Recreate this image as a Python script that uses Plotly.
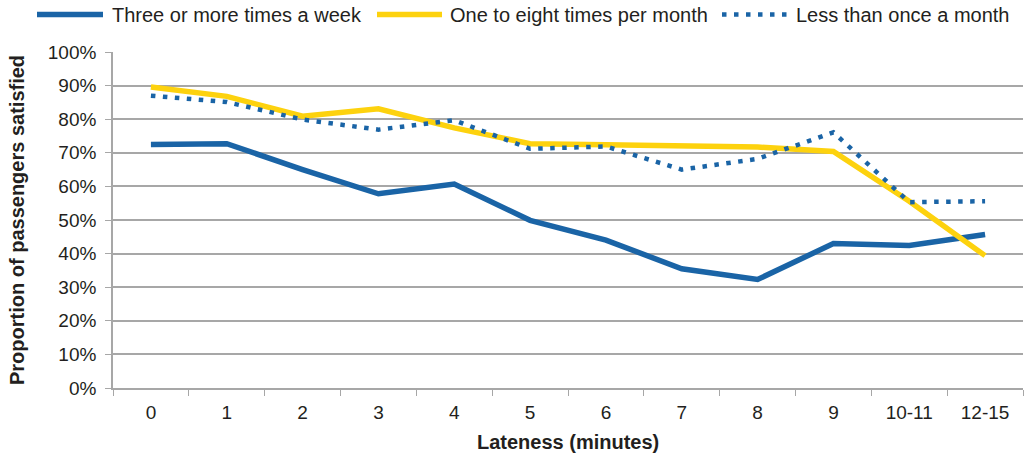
import plotly.graph_objects as go

# Passenger satisfaction by lateness, split by travel frequency
lateness = ["0", "1", "2", "3", "4", "5", "6", "7", "8", "9", "10-11", "12-15"]
three_plus_week = [0.725, 0.727, 0.650, 0.578, 0.607, 0.499, 0.440, 0.355, 0.323, 0.430, 0.424, 0.457]
one_to_eight_month = [0.896, 0.868, 0.809, 0.831, 0.774, 0.727, 0.724, 0.721, 0.717, 0.704, 0.556, 0.394]
less_than_monthly = [0.870, 0.851, 0.799, 0.769, 0.797, 0.712, 0.719, 0.650, 0.682, 0.761, 0.553, 0.556]
y_ticks = [0, 0.1, 0.2, 0.3, 0.4, 0.5, 0.6, 0.7, 0.8, 0.9, 1.0]
y_tick_text = ["0%", "10%", "20%", "30%", "40%", "50%", "60%", "70%", "80%", "90%", "100%"]

BLUE = "#1a64a6"
GOLD = "#fdd20e"
GRID = "#a7a7a7"
TEXT = "#231f20"
FONT = "Liberation Sans, Arial, sans-serif"
DOTS = "4.5px,7.5px"

series = [
    ("Three or more times a week", three_plus_week, BLUE, 5.5, "solid"),
    ("One to eight times per month", one_to_eight_month, GOLD, 5.5, "solid"),
    ("Less than once a month", less_than_monthly, BLUE, 4.5, DOTS),
]

fig = go.Figure()
for name, vals, color, width, dash in series:
    fig.add_trace(go.Scatter(
        x=lateness, y=vals, mode="lines", name=name,
        line=dict(color=color, width=width, dash=dash),
        showlegend=False,
    ))

W, H = 1024, 462
L, R, T, B = 113, 1, 52, 74
pw, ph = W - L - R, H - T - B


def px_x(p):
    return (p - L) / pw


def px_y(p):
    return (H - B - p) / ph


# Legend row drawn above the plot with long line samples
legend_y = px_y(14.5)
legend_items = [
    ("Three or more times a week", BLUE, 5.5, "solid", 37, 103, 110),
    ("One to eight times per month", GOLD, 5.5, "solid", 377, 442, 448),
    ("Less than once a month", BLUE, 4.5, DOTS, 722, 790, 794),
]
shapes = []
annotations = []
for text, color, width, dash, x0, x1, tx in legend_items:
    shapes.append(dict(type="line", xref="paper", yref="paper",
                       x0=px_x(x0), x1=px_x(x1), y0=legend_y, y1=legend_y,
                       line=dict(color=color, width=width, dash=dash)))
    annotations.append(dict(text=text, xref="paper", yref="paper",
                            x=px_x(tx), y=legend_y, xanchor="left", yanchor="middle",
                            showarrow=False, font=dict(size=20, color=TEXT, family=FONT)))

annotations.append(dict(text="<b>Proportion of passengers satisfied</b>", xref="paper", yref="paper",
                        x=px_x(17), y=0.5, textangle=-90, xanchor="center", yanchor="middle",
                        showarrow=False, font=dict(size=20, color=TEXT, family=FONT)))
annotations.append(dict(text="<b>Lateness (minutes)</b>", xref="paper", yref="paper",
                        x=0.5, y=px_y(442), xanchor="center", yanchor="middle",
                        showarrow=False, font=dict(size=20, color=TEXT, family=FONT)))

fig.update_layout(
    width=W, height=H,
    margin=dict(l=L, r=R, t=T, b=B, pad=0),
    paper_bgcolor="white", plot_bgcolor="white",
    font=dict(family=FONT, color=TEXT, size=19),
    shapes=shapes, annotations=annotations,
    showlegend=False,
)
fig.update_xaxes(
    type="category", range=[-0.5, 11.5],
    showline=True, linecolor=GRID, linewidth=1.6,
    ticks="outside", tickson="boundaries", ticklen=6, tickcolor=GRID, tickwidth=1.3,
    ticklabelstandoff=6,
    showgrid=False, zeroline=False,
    tickfont=dict(size=19, color=TEXT, family=FONT),
)
fig.update_yaxes(
    range=[0, 1.0], tickvals=y_ticks, ticktext=y_tick_text,
    showline=True, linecolor=GRID, linewidth=1.6,
    ticks="outside", ticklen=6, tickcolor=GRID, tickwidth=1.3,
    ticklabelstandoff=5,
    showgrid=True, gridcolor=GRID, gridwidth=1.6, zeroline=False,
    tickfont=dict(size=19, color=TEXT, family=FONT),
)

fig.write_html("out.html")
